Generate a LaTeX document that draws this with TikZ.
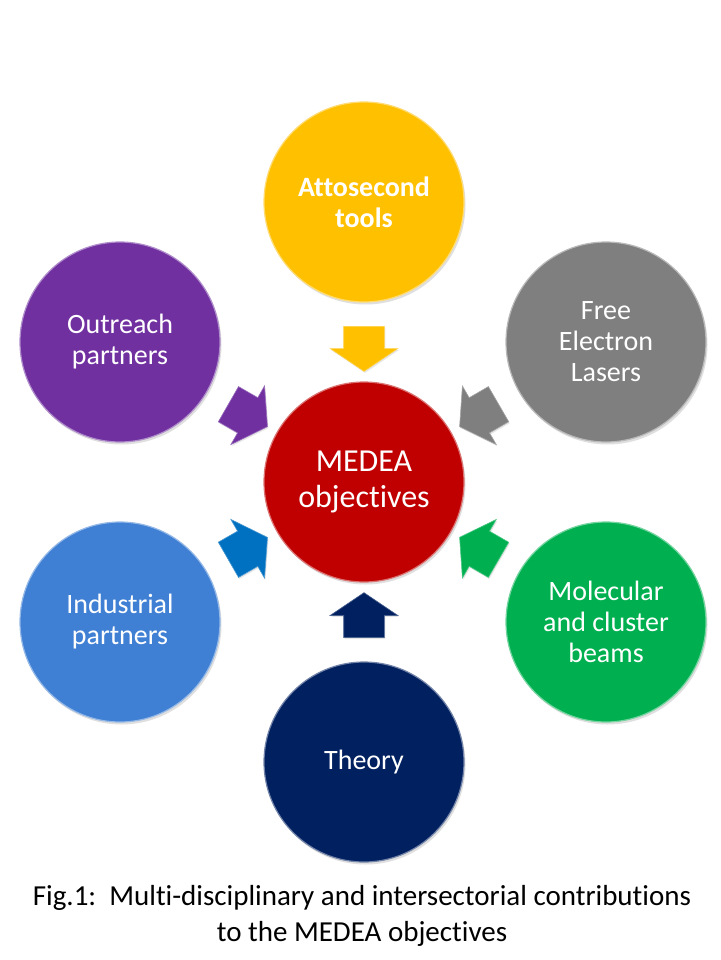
\documentclass[tikz,border=0pt]{standalone}
\usepackage{fontspec}
\setmainfont{Carlito}[Ligatures=NoCommon]
\usetikzlibrary{shapes.arrows,shadows}
\definecolor{attoyellow}{HTML}{FFC000}
\definecolor{felgray}{HTML}{7F7F7F}
\definecolor{beamgreen}{HTML}{00B050}
\definecolor{theorynavy}{HTML}{002060}
\definecolor{industryblue}{HTML}{3F7FD4}
\definecolor{industryarrow}{HTML}{0070C0}
\definecolor{outreachpurple}{HTML}{7030A0}
\definecolor{medeared}{HTML}{C00000}
\tikzset{
  topic/.style={circle,fill=#1,draw=#1!55!white,line width=1.2pt,
    minimum size=200pt,inner sep=0pt,align=center,text=white,
    font=\fontsize{28}{31}\selectfont,
    drop shadow={opacity=0.25,shadow xshift=1.5pt,shadow yshift=-2.5pt}},
  feed/.style={single arrow,fill=#1,draw=#1!70!white,line width=0.6pt,
    minimum height=45pt,inner xsep=0pt,inner ysep=20pt,
    single arrow head extend=13.5pt,single arrow tip angle=112,
    drop shadow={opacity=0.2,shadow xshift=1pt,shadow yshift=-1.5pt}},
  caption/.style={font=\fontsize{29}{36}\selectfont,inner sep=0pt,align=center}
}
\begin{document}
\begin{tikzpicture}[x=1pt,y=1pt]
  \useasboundingbox[fill=white] (0,0) rectangle (720,-960);
  \node[topic=medeared,font=\fontsize{32}{36}\selectfont] (medea) at (364,-482) {MEDEA\\objectives};
  \node[topic=attoyellow,font=\bfseries\fontsize{28}{31}\selectfont] (atto) at (364,-202) {Attosecond\\tools};
  \node[topic=felgray] (fel) at (606,-342) {Free\\Electron\\Lasers};
  \node[topic=beamgreen] (beams) at (606,-622) {Molecular\\and cluster\\beams};
  \node[topic=theorynavy] (theory) at (364,-762) {Theory};
  \node[topic=industryblue] (industry) at (120,-622) {Industrial\\partners};
  \node[topic=outreachpurple] (outreach) at (120,-342) {Outreach\\partners};
  % block arrows halfway towards the centre
  \foreach \src/\col in {atto/attoyellow,fel/felgray,beams/beamgreen,
      theory/theorynavy,industry/industryarrow,outreach/outreachpurple} {
    \path (\src.center) -- node[feed=\col,sloped,allow upside down] {} (medea.center);
  }
  \node[caption] (caption) at (362,-916) {Fig.1:~~Multi-disciplinary and intersectorial contributions\\to the MEDEA objectives};
\end{tikzpicture}
\end{document}
